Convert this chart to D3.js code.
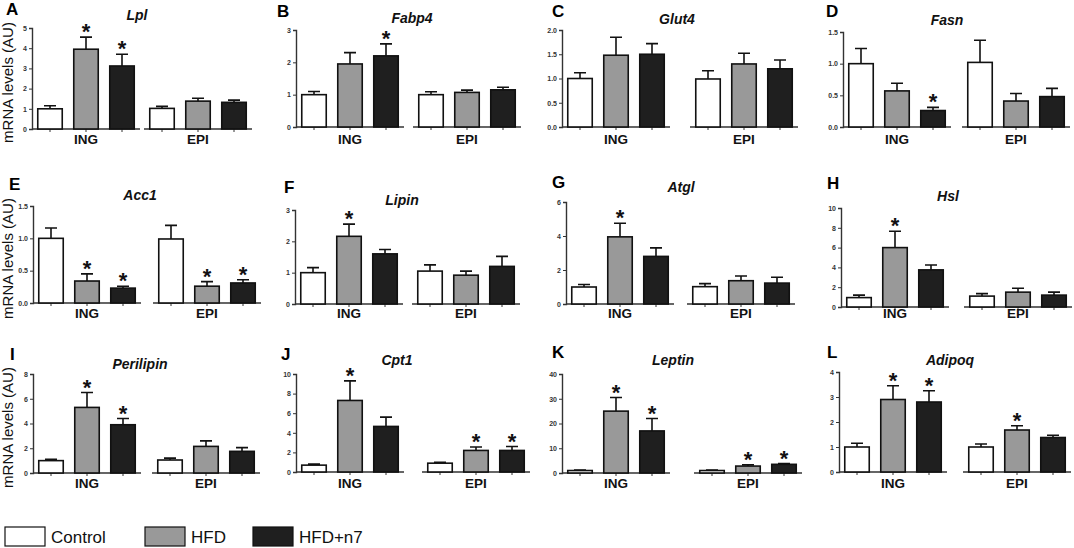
<!DOCTYPE html>
<html>
<head>
<meta charset="utf-8">
<script src="https://cdn.jsdelivr.net/npm/d3@7"></script>
<style>
body { margin: 0; background: #fff; }
text { font-family: Arial, "Liberation Sans", sans-serif; }
</style>
</head>
<body>
<div id="chart"></div>
<script>
// ---- data ----
const groups = ["Control", "HFD", "HFD+n7"];
const tissues = ["ING", "EPI"];
const letters = ["A", "B", "C", "D", "E", "F", "G", "H", "I", "J", "K", "L"];
const genes = ["Lpl", "Fabp4", "Glut4", "Fasn", "Acc1", "Lipin", "Atgl", "Hsl", "Perilipin", "Cpt1", "Leptin", "Adipoq"];

const ingMeans = [
    [1.0, 3.95, 3.12], [1.0, 1.95, 2.2], [1.0, 1.48, 1.5], [1.0, 0.57, 0.26],
    [1.0, 0.34, 0.23], [1.0, 2.16, 1.6], [1.0, 3.95, 2.8], [0.95, 6.0, 3.75],
    [1.0, 5.3, 3.9], [0.7, 7.3, 4.65], [1.0, 25, 17], [1.0, 2.9, 2.8]
];
const ingSem = [
    [0.15, 0.6, 0.58], [0.1, 0.35, 0.37], [0.12, 0.37, 0.22], [0.24, 0.12, 0.05],
    [0.16, 0.11, 0.03], [0.16, 0.39, 0.14], [0.15, 0.8, 0.5], [0.25, 1.65, 0.5],
    [0.1, 1.2, 0.5], [0.1, 2.0, 0.95], [0.2, 5.5, 5], [0.15, 0.55, 0.45]
];
const epiMeans = [
    [1.02, 1.38, 1.32], [1.0, 1.07, 1.15], [0.99, 1.3, 1.2], [1.02, 0.41, 0.48],
    [0.99, 0.26, 0.31], [1.05, 0.92, 1.2], [1.02, 1.37, 1.23], [1.1, 1.5, 1.2],
    [1.05, 2.15, 1.75], [0.9, 2.2, 2.2], [1.0, 2.8, 3.5], [1.0, 1.68, 1.38]
];
const epiSem = [
    [0.1, 0.14, 0.11], [0.09, 0.07, 0.08], [0.17, 0.22, 0.18], [0.35, 0.12, 0.13],
    [0.21, 0.07, 0.05], [0.2, 0.13, 0.32], [0.18, 0.28, 0.34], [0.25, 0.4, 0.3],
    [0.15, 0.45, 0.3], [0.1, 0.35, 0.4], [0.2, 0.5, 0.3], [0.12, 0.17, 0.09]
];
const ingStars = [
    [0, 1, 1], [0, 0, 1], [0, 0, 0], [0, 0, 1], [0, 1, 1], [0, 1, 0],
    [0, 1, 0], [0, 1, 0], [0, 1, 1], [0, 1, 0], [0, 1, 1], [0, 1, 1]
];
const epiStars = [
    [0, 0, 0], [0, 0, 0], [0, 0, 0], [0, 0, 0], [0, 1, 1], [0, 0, 0],
    [0, 0, 0], [0, 0, 0], [0, 0, 0], [0, 1, 1], [0, 1, 1], [0, 1, 0]
];
const yMax = [5, 3, 2, 1.5, 1.5, 3, 6, 10, 8, 10, 40, 4];
const yStep = [1, 1, 0.5, 0.5, 0.5, 1, 2, 2, 2, 2, 10, 1];
const yDecimals = [0, 0, 1, 1, 1, 0, 0, 0, 0, 0, 0, 0];
const yLabel = "mRNA levels (AU)";

// ---- layout (pixel positions of each panel) ----
const axisLeft = [32, 296, 562, 843, 33, 295, 566, 841, 33, 296, 562, 839];
const epiLeft  = [144, 413, 690, 962, 153, 412, 687, 964, 152, 422, 694, 963];
const plotTop  = [28, 30, 30, 32, 206, 210, 202, 208, 374, 374, 374, 372];
const plotBot  = [129, 127, 127, 127, 303, 304, 304, 307, 473, 472, 473, 472];
const titleX   = [137, 412, 677, 947, 140, 402, 681, 948, 140, 397, 673, 950];
const titleY   = [20, 23, 24, 25, 200, 205, 192, 201, 369, 365, 365, 365];
const letterX  = [6, 277, 552, 826, 9, 284, 552, 827, 10, 281, 552, 827];
const letterY  = [15, 17, 17, 17, 190, 193, 188, 189, 360, 360, 358, 358];
const rowLabelY = [144, 144, 144, 144, 318, 318, 318, 318, 488, 488, 488, 488];
const GROUP_W = 108;
const colors = ["#ffffff", "#999999", "#1f1f1f"];

const svg = d3.select("#chart")
    .append("svg")
    .attr("width", 1074)
    .attr("height", 548);

genes.forEach((gene, i) => {
    const g = svg.append("g");

    const y = d3.scaleLinear()
        .domain([0, yMax[i]])
        .range([plotBot[i], plotTop[i]]);

    const ticks = d3.range(0, yMax[i] + yStep[i] / 2, yStep[i]);

    // y axis
    const yAxis = g.append("g")
        .attr("transform", `translate(${axisLeft[i]},0)`)
        .call(d3.axisLeft(y)
            .tickValues(ticks)
            .tickSize(3)
            .tickPadding(2)
            .tickFormat(d3.format(`.${yDecimals[i]}f`)));
    yAxis.select(".domain").attr("stroke", "#333").attr("stroke-width", 1.4);
    yAxis.selectAll(".tick line").attr("stroke", "#333").attr("stroke-width", 1);
    yAxis.selectAll(".tick text")
        .attr("font-size", 7)
        .attr("font-weight", "bold")
        .attr("fill", "#333");

    const sets = [
        { name: tissues[0], left: axisLeft[i], means: ingMeans[i], sem: ingSem[i], stars: ingStars[i] },
        { name: tissues[1], left: epiLeft[i], means: epiMeans[i], sem: epiSem[i], stars: epiStars[i] }
    ];

    sets.forEach(set => {
        const x = d3.scaleBand()
            .domain(groups)
            .range([set.left, set.left + GROUP_W])
            .paddingInner(0.32)
            .paddingOuter(0.16);

        // x axis (no tick labels)
        const xAxis = g.append("g")
            .attr("transform", `translate(0,${plotBot[i]})`)
            .call(d3.axisBottom(x).tickSize(3).tickFormat(""));
        xAxis.select(".domain")
            .attr("d", `M${set.left},0H${set.left + GROUP_W}`)
            .attr("stroke", "#333").attr("stroke-width", 1.4);
        xAxis.selectAll(".tick line").attr("stroke", "#333");

        const rows = groups.map((grp, k) => ({
            grp, k, v: set.means[k], e: set.sem[k], star: set.stars[k]
        }));

        // error bars (drawn first so the bar covers the lower half)
        g.selectAll(null)
            .data(rows)
            .join("path")
            .attr("d", d => {
                const cx = x(d.grp) + x.bandwidth() / 2;
                return `M${cx},${y(d.v)}V${y(d.v + d.e)}M${cx - 6},${y(d.v + d.e)}H${cx + 6}`;
            })
            .attr("stroke", "#111")
            .attr("stroke-width", 1.6)
            .attr("fill", "none");

        g.selectAll(null)
            .data(rows)
            .join("rect")
            .attr("x", d => x(d.grp))
            .attr("y", d => y(d.v))
            .attr("width", x.bandwidth())
            .attr("height", d => y(0) - y(d.v))
            .attr("fill", d => colors[d.k])
            .attr("stroke", "#111")
            .attr("stroke-width", 1.6);

        g.selectAll(null)
            .data(rows.filter(d => d.star))
            .join("text")
            .attr("x", d => x(d.grp) + x.bandwidth() / 2)
            .attr("y", d => y(d.v + d.e) + 2)
            .attr("text-anchor", "middle")
            .attr("font-size", 22)
            .attr("font-weight", "bold")
            .attr("fill", "#111")
            .text("*");

        g.append("text")
            .attr("x", set.left + GROUP_W / 2)
            .attr("y", rowLabelY[i])
            .attr("text-anchor", "middle")
            .attr("font-size", 13.5)
            .attr("font-weight", "bold")
            .attr("fill", "#111")
            .text(set.name);
    });

    g.append("text")
        .attr("x", titleX[i])
        .attr("y", titleY[i])
        .attr("text-anchor", "middle")
        .attr("font-size", 14)
        .attr("font-weight", "bold")
        .attr("font-style", "italic")
        .attr("fill", "#111")
        .text(gene);

    g.append("text")
        .attr("x", letterX[i])
        .attr("y", letterY[i])
        .attr("font-size", 17)
        .attr("font-weight", "bold")
        .attr("fill", "#000")
        .text(letters[i]);

    if (i % 4 === 0) {
        const mid = (plotTop[i] + plotBot[i]) / 2 + 4;
        g.append("text")
            .attr("transform", `translate(13,${mid}) rotate(-90)`)
            .attr("text-anchor", "middle")
            .attr("font-size", 15)
            .attr("fill", "#111")
            .text(yLabel);
    }
});

// legend
const legendX = [5, 145, 253];
const legend = svg.append("g").attr("transform", "translate(0,527)");
groups.forEach((grp, k) => {
    legend.append("rect")
        .attr("x", legendX[k])
        .attr("y", 0)
        .attr("width", 40)
        .attr("height", 19)
        .attr("fill", colors[k])
        .attr("stroke", "#111")
        .attr("stroke-width", 1.2);
    legend.append("text")
        .attr("x", legendX[k] + 46)
        .attr("y", 16)
        .attr("font-size", 17)
        .attr("fill", "#111")
        .text(grp);
});
</script>
</body>
</html>
